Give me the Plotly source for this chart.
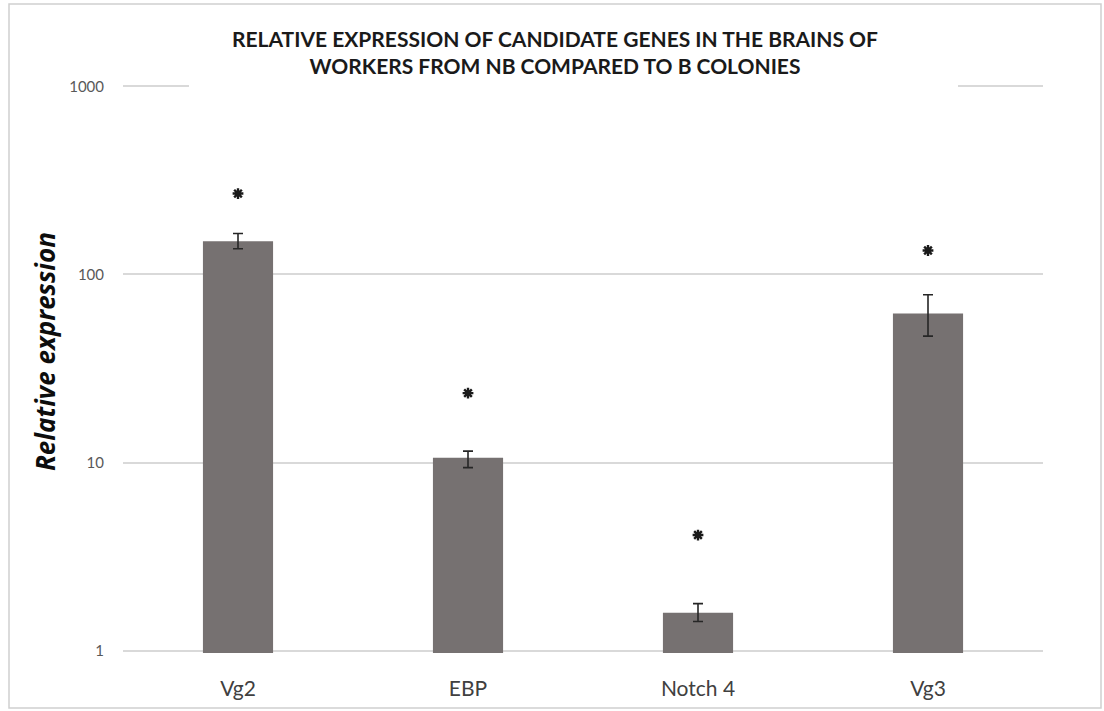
import plotly.graph_objects as go

genes = ["Vg2", "EBP", "Notch 4", "Vg3"]
expression = [150, 10.6, 1.59, 62]
err_plus = [15, 0.9, 0.19, 16]
err_minus = [13, 1.2, 0.16, 15]
star_y = [269, 23.4, 4.12, 134]
y_ticks = [1, 10, 100, 1000]
y_tick_text = ["1", "10", "100", "1000"]

W, H = 1104, 711
L, R, T, B = 123, 61, 84, 58
pw, ph = W - L - R, H - T - B

def px(x):
    return (x - L) / pw

def py(y):
    return (H - B - y) / ph

fig = go.Figure()
fig.add_trace(go.Bar(
    x=genes, y=expression,
    marker=dict(color="#767171", line=dict(width=0)),
    error_y=dict(type="data", symmetric=False, array=err_plus, arrayminus=err_minus,
                 color="#262626", thickness=1.6, width=5),
    width=0.305,
))
fig.add_trace(go.Scatter(
    x=genes, y=star_y, mode="markers",
    marker=dict(symbol="asterisk-open", size=9, color="#1a1a1a",
                line=dict(width=2.4, color="#1a1a1a")),
    hoverinfo="skip",
))

fig.update_layout(
    width=W, height=H,
    margin=dict(l=L, r=R, t=T, b=B, pad=0, autoexpand=False),
    paper_bgcolor="white", plot_bgcolor="white",
    showlegend=False,
    title=dict(
        text="RELATIVE EXPRESSION OF CANDIDATE GENES IN THE BRAINS OF<br>WORKERS FROM NB COMPARED TO B COLONIES",
        x=555 / W, xref="container", xanchor="center",
        y=1 - 47 / H, yref="container", yanchor="middle",
        font=dict(family="Lato, sans-serif", size=21, color="#1a1a1a", weight="bold"),
    ),
    xaxis=dict(
        showgrid=False, zeroline=False, showline=False, automargin=False,
        tickfont=dict(family="Lato, sans-serif", size=21, color="#404040"),
        ticks="", ticklabelstandoff=21,
    ),
    yaxis=dict(
        type="log", range=[-0.012, 3.012], automargin=False,
        tickvals=y_ticks, ticktext=y_tick_text,
        showgrid=True, gridcolor="#d9d9d9", gridwidth=1.5,
        zeroline=False, showline=False, ticks="",
        tickfont=dict(family="Lato, sans-serif", size=15, color="#595959"),
        ticklabelstandoff=18,
    ),
    shapes=[
        dict(type="rect", xref="paper", yref="paper",
             x0=px(9), x1=px(1101), y0=py(708), y1=py(4),
             line=dict(color="#d0d0d0", width=1.5), fillcolor="rgba(0,0,0,0)", layer="below"),
        dict(type="rect", xref="paper", yref="paper",
             x0=px(189), x1=px(958), y0=py(93), y1=py(79),
             line=dict(width=0), fillcolor="white", layer="above"),
    ],
    annotations=[
        dict(text="Relative expression", xref="paper", yref="paper",
             x=px(45), y=py(352), xanchor="center", yanchor="middle",
             textangle=-90, showarrow=False,
             font=dict(family="Open Sans, sans-serif", size=26, color="#0d0d0d",
                       weight="bold", style="italic")),
    ],
)

fig.write_html("out.html")
